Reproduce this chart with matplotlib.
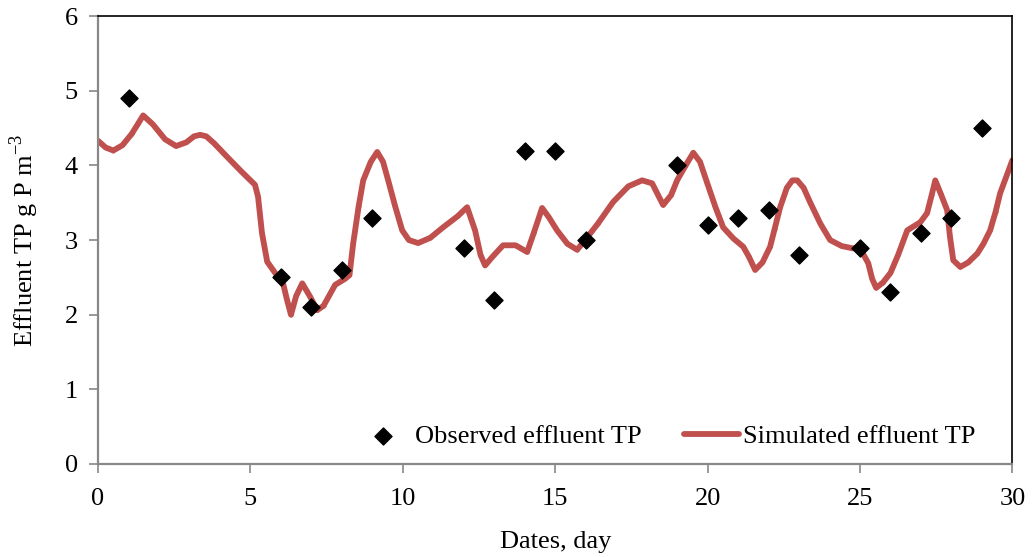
import matplotlib as mpl
mpl.use('Agg')
import matplotlib.pyplot as plt

plt.rcParams['font.family'] = ['Liberation Serif', 'DejaVu Serif']
plt.rcParams['mathtext.fontset'] = 'custom'
plt.rcParams['mathtext.rm'] = 'Liberation Serif'

obs_day = [1, 6, 7, 8, 9, 12, 13, 14, 15, 16, 19, 20, 21, 22, 23, 25, 26, 27, 28, 29]
obs_tp = [4.9, 2.5, 2.1, 2.6, 3.3, 2.9, 2.2, 4.2, 4.2, 3.0, 4.0, 3.2, 3.3, 3.4, 2.8, 2.9, 2.3, 3.1, 3.3, 4.5]

sim_day = [0, 0.25, 0.5, 0.8, 1.1, 1.3, 1.48, 1.8, 2.2, 2.56, 2.9, 3.15, 3.35, 3.55, 3.8, 4.27, 4.7, 5.0, 5.15,
           5.25, 5.38, 5.55, 5.81, 6.07, 6.2, 6.33, 6.5, 6.7, 6.96, 7.19, 7.4, 7.78, 8.1, 8.25,
           8.37, 8.55, 8.7, 8.95, 9.16, 9.35, 9.52, 9.75, 9.98, 10.2, 10.5, 10.9, 11.32, 11.8,
           12.11, 12.37, 12.55, 12.7, 12.95, 13.29, 13.7, 14.08, 14.3, 14.57, 14.8, 15.06,
           15.4, 15.72, 15.98, 16.4, 16.9, 17.4, 17.85, 18.18, 18.54, 18.8, 19.0, 19.25, 19.53,
           19.75, 19.99, 20.25, 20.51, 20.85, 21.17, 21.35, 21.56, 21.8, 22.05, 22.2, 22.38,
           22.6, 22.78, 22.94, 23.15, 23.37, 23.7, 24.02, 24.4, 24.75, 25.0, 25.27, 25.4,
           25.53, 25.75, 26.0, 26.25, 26.55, 26.98, 27.2, 27.35, 27.47, 27.65, 27.86, 27.95,
           28.06, 28.29, 28.55, 28.85, 29.05, 29.27, 29.45, 29.6, 29.8, 30.0]
sim_tp = [4.33, 4.24, 4.2, 4.27, 4.42, 4.55, 4.67, 4.55, 4.35, 4.26, 4.31, 4.39, 4.41, 4.39, 4.3, 4.1, 3.92, 3.8, 3.74,
          3.58, 3.09, 2.71, 2.56, 2.42, 2.2, 2.0, 2.25, 2.42, 2.24, 2.06, 2.12, 2.4, 2.48, 2.53,
          2.95, 3.45, 3.8, 4.05, 4.18, 4.05, 3.8, 3.45, 3.13, 3.0, 2.96, 3.03, 3.17, 3.32,
          3.44, 3.13, 2.8, 2.66, 2.78, 2.93, 2.93, 2.84, 3.1, 3.43, 3.3, 3.13, 2.95, 2.87,
          3.0, 3.22, 3.51, 3.72, 3.8, 3.76, 3.47, 3.6, 3.8, 3.98, 4.17, 4.05, 3.76, 3.45,
          3.17, 3.02, 2.91, 2.78, 2.6, 2.7, 2.91, 3.15, 3.44, 3.7, 3.8, 3.8, 3.7, 3.5, 3.22,
          3.0, 2.92, 2.89, 2.89, 2.69, 2.48, 2.36, 2.43, 2.56, 2.8, 3.13, 3.24, 3.36, 3.6,
          3.8, 3.62, 3.4, 3.05, 2.73, 2.64, 2.7, 2.82, 2.95, 3.13, 3.38, 3.63, 3.85, 4.07]

fig = plt.figure(figsize=(10.32, 5.57), dpi=100)
ax = fig.add_axes([0.095, 0.167, 0.886, 0.804])

ax.plot(sim_day, sim_tp, color='#C0504D', lw=4.2, marker='+', ms=3, mew=1,
        solid_joinstyle='round', solid_capstyle='round', label='Simulated effluent TP', zorder=2)
ax.scatter(obs_day, obs_tp, marker='D', s=75, color='black', label='Observed effluent TP',
           zorder=3)

ax.set_xlim(0, 30)
ax.set_ylim(0, 6)
ax.set_xticks(range(0, 31, 5))
ax.set_yticks(range(0, 7))
ax.tick_params(labelsize=19, direction='out', length=6.5, width=1.2, color='#888888')
ax.tick_params(axis='x', pad=11)
ax.tick_params(axis='y', pad=8)
for s in ['left', 'bottom']:
    ax.spines[s].set_color('#888888')
    ax.spines[s].set_linewidth(1.6)
for s in ['top', 'right']:
    ax.spines[s].set_color('black')
    ax.spines[s].set_linewidth(1.2)

ax.set_xlabel('Dates, day', fontsize=19, labelpad=15)
ax.set_ylabel('Effluent TP g P m$^{\\mathregular{-3}}$', fontsize=19, labelpad=17)

h, l = ax.get_legend_handles_labels()
ax.legend(h[::-1], l[::-1], ncol=2, frameon=False, fontsize=19, loc='center right',
          bbox_to_anchor=(0.958, 0.217), bbox_transform=fig.transFigure, borderpad=0,
          handlelength=2.1, handletextpad=0.15, columnspacing=1.6)

fig.savefig('out.png', dpi=100)
